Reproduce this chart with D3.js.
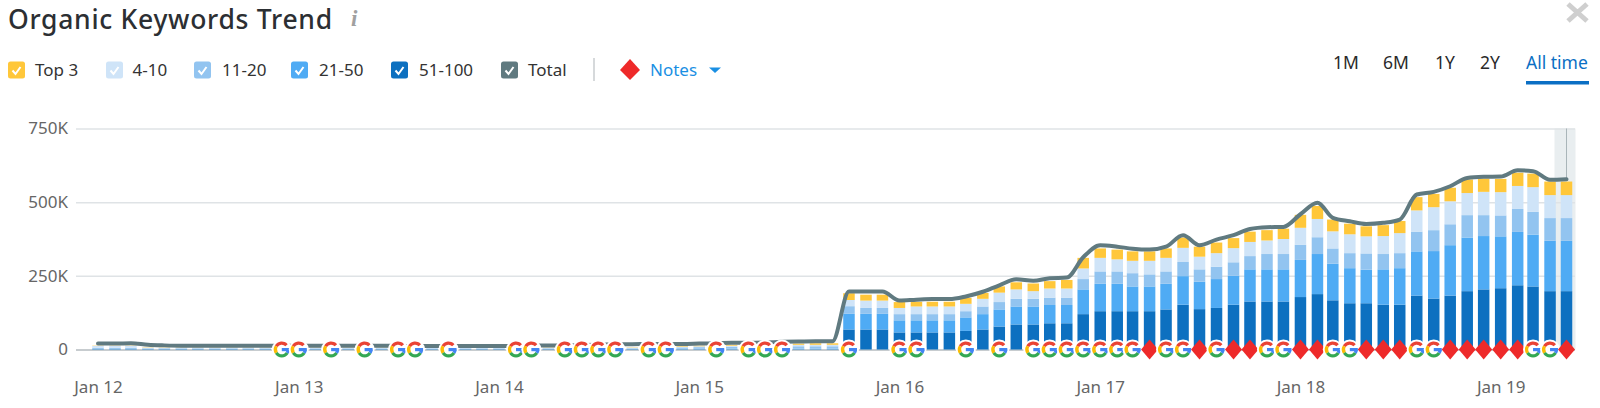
<!DOCTYPE html>
<html>
<head>
<meta charset="utf-8">
<script src="https://cdn.jsdelivr.net/npm/d3@7"></script>
<style>
  html, body {margin: 0; background: #fff}
  svg {display: block}
  text {font-family: 'Noto Sans', sans-serif}
  .domain {display: none}
</style>
</head>
<body>
<div id="graph"></div>
<script>
var w = 1600, h = 408

// thousands of keywords per month, Jan 12 .. May 19
var pos51to100 = [
  1,1,1,
  1,1,1,1,1,1,1,1,1,1,1,1,1,1,1,1,1,1,1,1,1,1,1,1,1,1,1,1,1,1,1,
  1,1,1,1,1,1,1,1,1,1,1,
  68,68,68,58,58,58,58,63,68,78,85,85,89,89,120,130,130,130,130,136,152,137,141,152,163,163,163,178,188,167,157,157,152,152,183,173,183,198,204,208,218,214,198,198]
var pos21to50 = [
  1,1,1,
  1,1,1,1,1,1,1,1,1,1,1,1,1,1,1,1,1,1,1,1,1,1,1,1,1,1,1,1,1,1,1,
  2,2,2,2,2,2,2,2,2,2,2,
  53,53,53,41,41,41,41,46,52,58,61,61,62,62,84,93,93,84,84,87,97,93,98,98,109,109,109,126,136,124,119,114,120,124,150,161,171,182,181,176,181,176,171,171]
var pos11to20 = [
  4,4,4,
  2,2,2,2,2,2,2,2,2,2,2,2,2,2,2,2,2,2,2,2,2,2,2,2,2,2,2,2,2,2,2,
  4,4,5,5,6,6,7,7,8,8,8,
  26,20,20,21,21,21,21,21,26,25,26,26,25,25,35,42,42,45,41,42,48,42,42,46,45,52,52,51,57,52,51,55,52,51,67,71,71,76,71,71,78,77,77,77]
var pos4to10 = [
  6,6,6,
  2,2,2,2,2,2,2,2,2,2,2,2,2,2,2,2,2,2,2,2,2,2,2,2,2,2,2,2,2,2,2,
  3,3,3,4,4,4,5,5,5,5,5,
  21,25,25,21,26,26,26,25,26,32,32,26,31,31,36,46,41,42,46,46,48,43,46,48,48,46,51,58,62,58,64,58,61,68,72,78,78,75,79,79,78,84,78,78]
var top3 = [
  1,1,1,
  1,1,1,1,1,1,1,1,1,1,1,1,1,1,1,1,1,1,1,1,1,1,1,1,1,1,1,1,1,1,1,
  2,2,2,3,3,3,3,4,4,5,5,
  23,20,20,20,16,16,16,20,20,21,24,26,25,29,36,32,33,32,32,32,35,34,36,34,35,35,35,44,44,40,36,34,37,41,45,45,46,46,45,45,45,46,46,46]
var total = [
  20,20,21,
  16,14,13,13,13,13,13,13,13,13,13,13,13,13,13,12,12,12,12,12,12,12,12,13,14,14,15,16,18,18,19,
  19,19,20,21,23,23,24,26,27,28,28,
  197,197,197,166,169,171,171,180,196,218,238,233,242,244,313,354,349,342,339,349,388,354,373,388,409,415,416,459,498,447,435,426,430,441,526,535,554,582,586,587,608,605,576,578]

var yTicks = [0, 250, 500, 750]
var periods = ['1M', '6M', '1Y', '2Y', 'All time']

// month indexes of the chart events
var googleNotes = [11,12,14,16,18,19,21,25,26,28,29,30,31,33,34,37,39,40,41,45,48,49,52,54,56,57,58,59,60,61,62,64,65,67,70,71,74,75,79,80,86,87]
var redNotes = [63,66,68,69,72,73,76,77,78,81,82,83,84,85,88]

var seriesKeys = ['pos51to100', 'pos21to50', 'pos11to20', 'pos4to10', 'top3']
var seriesColors = {pos51to100: '#0d70c0', pos21to50: '#4fabf4', pos11to20: '#92c4f0', pos4to10: '#cfe4f8', top3: '#ffc73a'}
var totalColor = '#607a80'

var months = d3.utcMonth.range(new Date(Date.UTC(2012, 0, 1)), new Date(Date.UTC(2019, 5, 1)))
var rows = months.map(function(d, i){
  return {date: d, pos51to100: pos51to100[i], pos21to50: pos21to50[i], pos11to20: pos11to20[i], pos4to10: pos4to10[i], top3: top3[i], total: total[i]}
})

var x = d3.scaleUtc().domain([months[0], months[months.length - 1]]).range([98, 1566.5])
var y = d3.scaleLinear().domain([0, 750]).range([349.5, 128.5])

var svg = d3.select('#graph').append('svg').attr('width', w).attr('height', h)

// header
svg.append('text').attr('x', 8).attr('y', 28.5)
    .attr('font-size', 26.5).attr('letter-spacing', 0.7).attr('font-weight', 500).attr('fill', '#2c2f33')
    .text('Organic Keywords Trend')
svg.append('text').attr('x', 351).attr('y', 26)
    .attr('font-size', 23).attr('font-style', 'italic').attr('font-weight', 700).attr('fill', '#a0a0a0')
    .style('font-family', 'Liberation Serif')
    .text('i')
svg.append('path').attr('d', 'M1568,4L1587,21M1587,4L1568,21')
    .attr('stroke', '#cfcfcf').attr('stroke-width', 5).attr('fill', 'none')

// legend
var legendItems = [
  {label: 'Top 3', color: seriesColors.top3, box: 8, text: 35},
  {label: '4-10', color: seriesColors.pos4to10, box: 106, text: 132.5},
  {label: '11-20', color: seriesColors.pos11to20, box: 194, text: 222},
  {label: '21-50', color: seriesColors.pos21to50, box: 291, text: 319},
  {label: '51-100', color: seriesColors.pos51to100, box: 391, text: 419},
  {label: 'Total', color: totalColor, box: 501, text: 528}
]
var legend = svg.selectAll('g.legend').data(legendItems).enter().append('g').attr('class', 'legend')
legend.append('rect')
    .attr('x', function(d){ return d.box }).attr('y', 61.5)
    .attr('width', 17).attr('height', 17).attr('rx', 2.5)
    .attr('fill', function(d){ return d.color })
legend.append('path')
    .attr('d', function(d){ return 'M' + (d.box + 4.5) + ',70.5l3,3.5l5,-7' })
    .attr('fill', 'none').attr('stroke', '#fff').attr('stroke-width', 2)
legend.append('text')
    .attr('x', function(d){ return d.text }).attr('y', 76)
    .attr('font-size', 17).attr('fill', '#333')
    .text(function(d){ return d.label })

svg.append('line').attr('x1', 594).attr('x2', 594).attr('y1', 58).attr('y2', 81).attr('stroke', '#c9cccf').attr('stroke-width', 1.5)
svg.append('path').attr('d', 'M630,59L640,70L630,80L620,70Z').attr('fill', '#ee2a2a')
svg.append('text').attr('x', 650).attr('y', 76).attr('font-size', 17).attr('fill', '#1a8fe3').text('Notes')
svg.append('path').attr('d', 'M709,67.5H721L715,73Z').attr('fill', '#1a8fe3')

// period switch
var periodX = [1333, 1383, 1435, 1480, 1526]
svg.selectAll('text.period').data(periods).enter().append('text')
    .attr('class', 'period')
    .attr('x', function(d, i){ return periodX[i] }).attr('y', 69)
    .attr('font-size', 17.5)
    .attr('fill', function(d){ return d == 'All time' ? '#0b6fc4' : '#2a2a2a' })
    .text(function(d){ return d })
svg.append('rect').attr('x', 1526).attr('y', 81).attr('width', 63).attr('height', 3.5).attr('fill', '#0b6fc4')

// hovered month
svg.append('rect').attr('x', x(months[88]) - 12).attr('y', y(750))
    .attr('width', 21).attr('height', y(0) - y(750)).attr('fill', '#e9eef0')

// axes
var yAxis = d3.axisLeft(y).tickValues(yTicks).tickSize(1499).tickPadding(8)
    .tickFormat(function(d){ return d ? d + 'K' : '0' })
var yG = svg.append('g').attr('transform', 'translate(1575,0)').call(yAxis)
yG.selectAll('line').attr('stroke', '#dfe3e6').attr('stroke-width', 1.5)
yG.selectAll('text').attr('font-size', 17).attr('fill', '#666')
yG.selectAll('.tick').filter(function(d){ return d == 0 }).select('line').attr('stroke', '#b4bbbf')

var xAxis = d3.axisBottom(x).ticks(d3.utcYear.every(1)).tickSize(0).tickPadding(31)
    .tickFormat(d3.utcFormat('%b %y'))
var xG = svg.append('g').attr('transform', 'translate(0,' + y(0) + ')').call(xAxis)
xG.selectAll('text').attr('font-size', 17).attr('fill', '#666')

// stacked bars
var barW = 11.5
var stacked = d3.stack().keys(seriesKeys)(rows)
svg.selectAll('g.series').data(stacked).enter().append('g')
    .attr('class', 'series')
    .attr('fill', function(d){ return seriesColors[d.key] })
  .selectAll('rect').data(function(d){ return d }).enter().append('rect')
    .attr('x', function(d){ return x(d.data.date) - barW / 2 })
    .attr('width', barW)
    .attr('y', function(d){ return y(d[1]) })
    .attr('height', function(d){ return y(d[0]) - y(d[1]) })

// total line
svg.append('line')
    .attr('x1', x(months[88])).attr('x2', x(months[88]))
    .attr('y1', y(750)).attr('y2', y(total[88]))
    .attr('stroke', '#a9b5b9').attr('stroke-width', 1)
var line = d3.line()
    .x(function(d){ return x(d.date) })
    .y(function(d){ return y(d.total) })
    .curve(d3.curveMonotoneX)
svg.append('path').datum(rows)
    .attr('d', line)
    .attr('fill', 'none').attr('stroke', totalColor)
    .attr('stroke-width', 4).attr('stroke-linecap', 'round').attr('stroke-linejoin', 'round')

// notes on the zero line
var deg = Math.PI / 180
var gParts = [
  {from: -60, to: 48, color: '#ea4335'},
  {from: -122, to: -60, color: '#fbbc05'},
  {from: -238, to: -122, color: '#34a853'},
  {from: 90, to: 122, color: '#4285f4'}
]
var gArc = d3.arc().innerRadius(4.8).outerRadius(8)
var events = googleNotes.map(function(i){ return {i: i, kind: 'g'} })
    .concat(redNotes.map(function(i){ return {i: i, kind: 'r'} }))
    .sort(function(a, b){ return a.i - b.i })

var note = svg.selectAll('g.note').data(events).enter().append('g')
    .attr('class', 'note')
    .attr('transform', function(d){ return 'translate(' + x(months[d.i]) + ',' + y(0) + ')' })

note.filter(function(d){ return d.kind == 'r' }).append('path')
    .attr('d', 'M0,-10L8.5,0L0,10L-8.5,0Z')
    .attr('fill', '#ee2a2a')

var gNote = note.filter(function(d){ return d.kind == 'g' })
gNote.append('circle').attr('r', 10).attr('fill', '#fff')
gParts.forEach(function(p){
  gNote.append('path')
      .attr('d', gArc({startAngle: p.from * deg, endAngle: p.to * deg}))
      .attr('fill', p.color)
})
gNote.append('rect').attr('x', 0).attr('y', -1.5).attr('width', 8).attr('height', 3.2).attr('fill', '#4285f4')
</script>
</body>
</html>
